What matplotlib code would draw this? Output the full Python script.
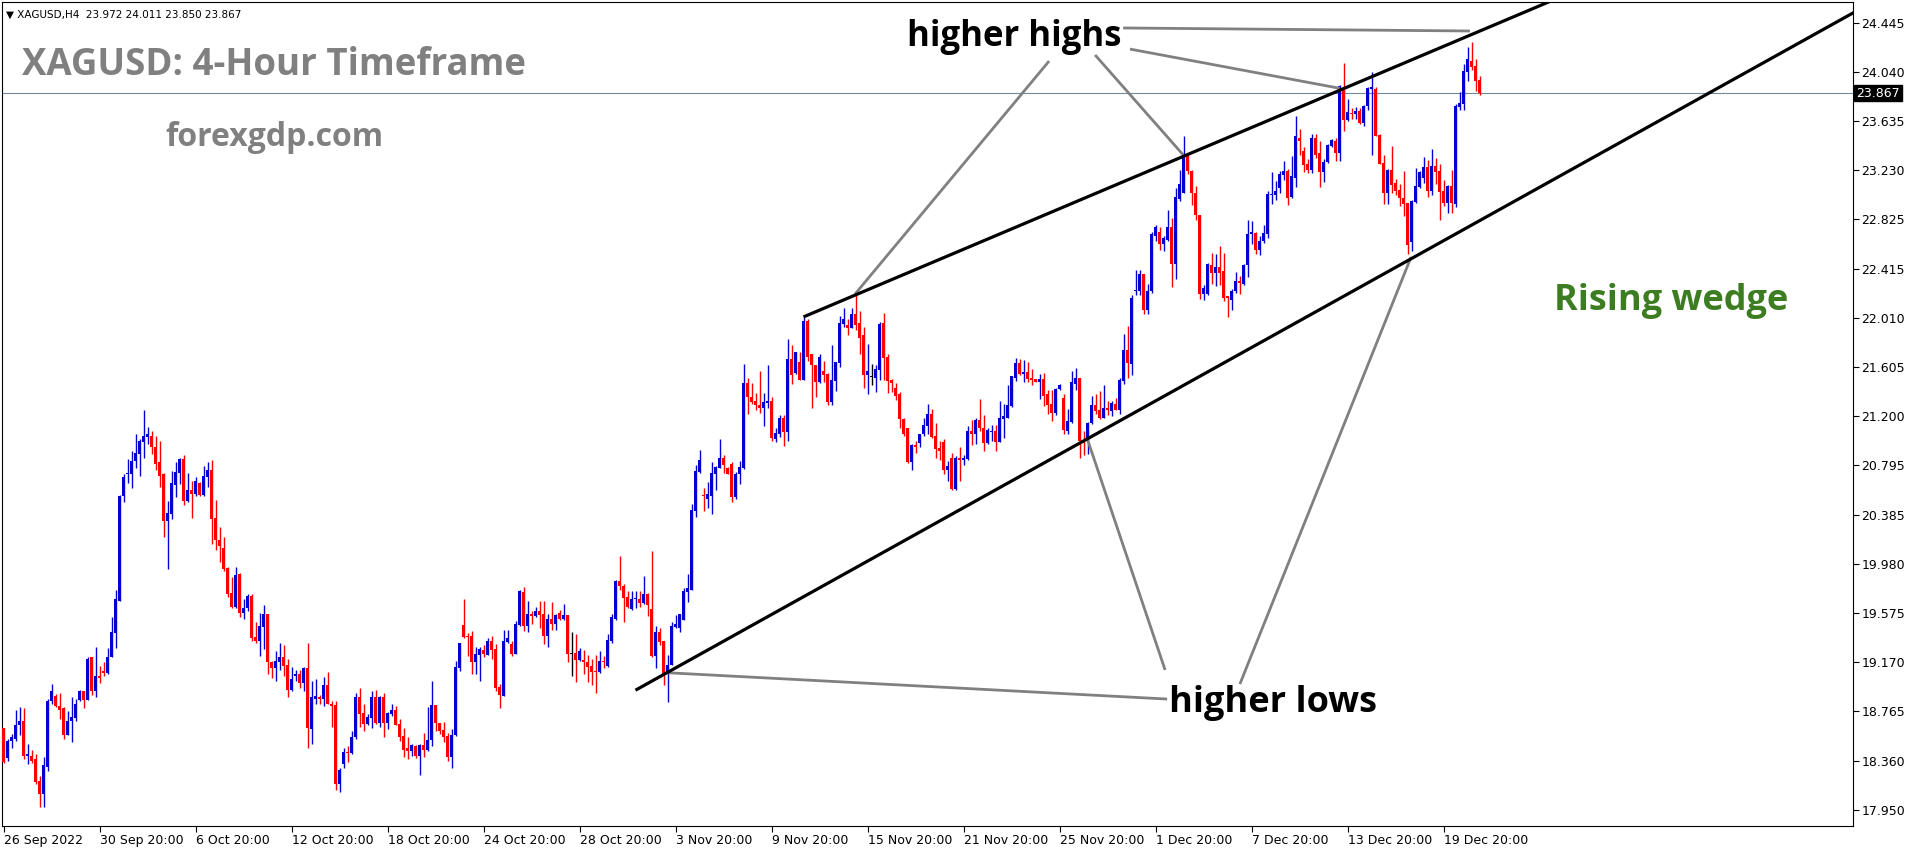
import matplotlib
matplotlib.use("Agg")
import matplotlib.pyplot as plt
import matplotlib.transforms as mtransforms

W, H, DPI = 1916, 850, 100

# ---------------- data (XAGUSD H4, bar 0 = 26 Sep 2022 20:00) ----------------
opens = [
    18.63, 18.38, 18.52, 18.54, 18.65, 18.69, 18.40, 18.40, 18.37, 18.19, 18.08, 18.31, 18.85, 18.89, 18.81, 18.79,
    18.57, 18.69, 18.71, 18.86, 18.93, 18.86, 19.21, 18.93, 19.06, 19.10, 19.08, 19.21, 19.41, 19.68, 20.54, 20.72,
    20.72, 20.83, 20.89, 20.99, 21.03, 21.04, 20.95, 20.82, 20.72, 20.34, 20.39, 20.63, 20.73, 20.85, 20.50,
    20.59, 20.56, 20.65, 20.55, 20.70, 20.76, 20.36, 20.18, 20.11, 19.95, 19.74, 19.63, 19.90, 19.58, 19.62, 19.72,
    19.38, 19.35, 19.46, 19.57, 19.17, 19.12, 19.17, 19.21, 19.15, 18.94, 19.06, 19.07, 19.00, 19.12, 18.62, 18.87,
    18.88, 18.87, 18.98, 18.83, 18.82, 18.17, 18.33, 18.43, 18.42, 18.55, 18.88, 18.75, 18.66, 18.71,
    18.88, 18.67, 18.88, 18.67, 18.74, 18.78, 18.66, 18.56, 18.46, 18.44, 18.48, 18.40, 18.49, 18.45, 18.53, 18.82,
    18.67, 18.61, 18.56, 18.39, 18.57, 19.12, 19.48, 19.39, 19.39, 19.17, 19.23, 19.27, 19.23, 19.35, 19.28, 18.97,
    18.89, 19.34, 19.32, 19.24, 19.48, 19.75, 19.47, 19.57, 19.55, 19.59, 19.57, 19.39, 19.53, 19.49,
    19.58, 19.53, 19.56, 19.24, 19.25, 19.19, 19.19, 19.17, 19.14, 19.10, 19.09, 19.18, 19.14, 19.35, 19.53, 19.84,
    19.80, 19.71, 19.61, 19.69, 19.69, 19.66, 19.73, 19.61, 19.22, 19.42, 19.35, 19.07, 19.15, 19.46, 19.45, 19.52,
    19.75, 19.77, 20.42, 20.74, 20.55, 20.52, 20.54, 20.72, 20.77, 20.86, 20.77, 20.81, 20.53, 20.72, 20.77,
    21.475, 21.36, 21.33, 21.29, 21.27, 21.31, 21.33, 21.01, 21.05, 21.19, 21.07, 21.67, 21.56, 21.65, 21.50, 21.99,
    21.71, 21.62, 21.48, 21.57, 21.55, 21.32, 21.49, 21.64, 21.96, 21.95, 21.93, 22.04, 21.97, 21.87, 21.54, 21.53,
    21.52, 21.58, 21.97, 21.69, 21.50, 21.43, 21.38, 21.18, 21.10, 20.82, 20.96, 20.98, 21.05, 21.12,
    21.22, 21.04, 20.94, 20.99, 20.76, 20.86, 20.60, 20.86, 20.84, 20.85, 21.08, 21.05, 21.17, 21.10, 20.98, 21.07,
    21.08, 20.99, 21.18, 21.19, 21.285, 21.52, 21.64, 21.55, 21.565, 21.52, 21.51, 21.48, 21.51, 21.38, 21.30, 21.23,
    21.425, 21.35, 21.08, 21.15, 21.47, 21.52, 21.00, 21.00, 21.145, 21.29, 21.25, 21.19, 21.27, 21.24,
    21.30, 21.255, 21.49, 21.75, 21.63, 22.235, 22.235, 22.37, 22.08, 22.23, 22.69, 22.72, 22.62, 22.655, 22.76, 22.46,
    22.99, 23.04, 23.356, 23.22, 23.04, 22.86, 22.21, 22.21, 22.45, 22.38, 22.43, 22.40, 22.19, 22.16, 22.23, 22.32,
    22.29, 22.45, 22.70, 22.71, 22.57, 22.65, 22.70, 23.025, 23.025, 23.08, 23.19, 23.22, 23.01, 23.17, 23.50,
    23.39, 23.28, 23.23, 23.50, 23.37, 23.216, 23.30, 23.43, 23.47, 23.37, 23.90, 23.645, 23.70, 23.694, 23.72, 23.62,
    23.76, 23.90, 23.90, 23.52, 23.29, 23.04, 23.23, 23.125, 23.07, 23.00, 22.96, 22.64, 22.97, 23.09, 23.17, 23.257,
    23.06, 23.265, 23.224, 23.06, 22.96, 23.10, 22.95, 23.752, 23.777, 24.043, 24.13, 24.09, 23.972,
]
highs = [
    18.63, 18.54, 18.58, 18.78, 18.80, 18.79, 18.50, 18.45, 18.41, 18.23, 18.39, 18.87, 18.99, 18.91, 18.92, 18.80,
    18.77, 18.88, 18.87, 18.94, 18.93, 19.21, 19.21, 19.30, 19.14, 19.17, 19.29, 19.54, 19.77, 20.55, 20.72, 20.85,
    20.91, 21.05, 21.01, 21.25, 21.11, 21.08, 21.04, 21.00, 20.73, 20.50, 20.75, 20.82, 20.86, 20.88, 20.73,
    20.67, 20.70, 20.66, 20.79, 20.82, 20.84, 20.51, 20.29, 20.20, 19.96, 19.87, 19.96, 19.91, 19.69, 19.73, 19.73,
    19.50, 19.58, 19.64, 19.57, 19.18, 19.26, 19.33, 19.31, 19.20, 19.13, 19.11, 19.11, 19.13, 19.33, 19.02, 19.03,
    18.90, 19.05, 19.09, 18.85, 18.85, 18.30, 18.46, 18.48, 18.60, 18.92, 18.96, 18.83, 18.74, 18.93,
    18.94, 18.89, 18.92, 18.76, 18.83, 18.81, 18.70, 18.63, 18.55, 18.50, 18.49, 18.50, 18.59, 18.80, 19.02, 18.82,
    18.67, 18.68, 18.59, 18.62, 19.18, 19.33, 19.69, 19.41, 19.43, 19.30, 19.30, 19.31, 19.37, 19.39, 19.32, 18.99,
    19.44, 19.44, 19.35, 19.51, 19.77, 19.79, 19.68, 19.59, 19.63, 19.68, 19.68, 19.57, 19.67, 19.57,
    19.60, 19.65, 19.56, 19.42, 19.40, 19.29, 19.27, 19.23, 19.20, 19.23, 19.26, 19.22, 19.40, 19.57, 19.85, 20.05,
    19.82, 19.76, 19.76, 19.76, 19.76, 19.88, 19.74, 20.09, 19.47, 19.45, 19.35, 19.23, 19.50, 19.56, 19.57, 19.78,
    19.90, 20.48, 20.80, 20.92, 20.61, 20.66, 20.82, 20.79, 21.01, 20.88, 20.78, 20.82, 20.74, 20.83, 21.63,
    21.52, 21.475, 21.39, 21.57, 21.39, 21.62, 21.36, 21.10, 21.21, 21.21, 21.84, 21.79, 21.73, 21.73, 22.02, 22.00,
    21.71, 21.62, 21.71, 21.66, 21.56, 21.79, 21.65, 22.03, 22.09, 22.00, 22.09, 22.22, 22.07, 21.94, 21.80, 21.63,
    21.62, 21.98, 22.05, 21.71, 21.51, 21.475, 21.40, 21.19, 21.10, 20.97, 21.00, 21.05, 21.19, 21.30,
    21.26, 21.145, 21.00, 21.01, 20.83, 20.90, 20.87, 20.95, 20.88, 21.12, 21.17, 21.19, 21.34, 21.21, 21.10, 21.13,
    21.13, 21.33, 21.30, 21.46, 21.53, 21.68, 21.67, 21.665, 21.65, 21.59, 21.51, 21.55, 21.557, 21.42, 21.42, 21.43,
    21.47, 21.38, 21.26, 21.57, 21.60, 21.52, 21.08, 21.15, 21.37, 21.38, 21.41, 21.46, 21.33, 21.33,
    21.35, 21.52, 21.88, 21.945, 22.20, 22.41, 22.41, 22.37, 22.29, 22.72, 22.78, 22.76, 22.69, 22.90, 22.836, 23.08,
    23.23, 23.51, 23.37, 23.23, 23.10, 22.86, 22.28, 22.465, 22.55, 22.54, 22.605, 22.55, 22.19, 22.25, 22.39, 22.36,
    22.46, 22.82, 22.81, 22.72, 22.69, 22.78, 23.06, 23.215, 23.14, 23.22, 23.31, 23.24, 23.35, 23.68, 23.57,
    23.42, 23.32, 23.53, 23.53, 23.47, 23.32, 23.45, 23.49, 23.50, 23.93, 24.115, 23.82, 23.74, 23.75, 23.74, 23.77,
    23.92, 24.04, 23.917, 23.53, 23.356, 23.24, 23.43, 23.158, 23.12, 23.224, 22.96, 22.985, 23.25, 23.224, 23.34, 23.315,
    23.405, 23.33, 23.28, 23.15, 23.108, 23.232, 23.777, 23.876, 24.107, 24.247, 24.288, 24.148, 24.011,
]
lows = [
    18.34, 18.36, 18.46, 18.52, 18.57, 18.37, 18.33, 18.34, 18.17, 17.98, 17.98, 18.27, 18.83, 18.80, 18.70, 18.54,
    18.57, 18.51, 18.69, 18.85, 18.79, 18.86, 18.90, 18.88, 19.00, 19.06, 19.07, 19.21, 19.29, 19.68, 20.49, 20.65,
    20.61, 20.77, 20.71, 20.86, 20.97, 20.89, 20.76, 20.62, 20.20, 19.94, 20.35, 20.53, 20.64, 20.47, 20.49,
    20.36, 20.54, 20.54, 20.54, 20.62, 20.15, 20.10, 20.00, 19.92, 19.71, 19.62, 19.62, 19.54, 19.53, 19.59, 19.35,
    19.33, 19.22, 19.28, 19.07, 19.04, 19.02, 19.11, 19.06, 18.88, 18.93, 19.02, 18.96, 18.93, 18.46, 18.50, 18.83,
    18.83, 18.81, 18.83, 18.64, 18.12, 18.10, 18.30, 18.35, 18.41, 18.54, 18.64, 18.60, 18.65, 18.63,
    18.66, 18.64, 18.55, 18.62, 18.73, 18.65, 18.52, 18.39, 18.37, 18.40, 18.38, 18.24, 18.39, 18.44, 18.48, 18.60,
    18.58, 18.51, 18.36, 18.30, 18.56, 19.10, 19.37, 19.22, 19.07, 19.07, 19.02, 19.21, 19.23, 19.20, 18.93, 18.79,
    18.89, 19.33, 19.22, 19.24, 19.47, 19.43, 19.42, 19.49, 19.54, 19.45, 19.32, 19.30, 19.44, 19.44,
    19.52, 19.52, 19.17, 19.06, 19.01, 19.18, 19.07, 19.01, 18.98, 18.92, 19.08, 19.12, 19.13, 19.33, 19.52, 19.77,
    19.50, 19.62, 19.60, 19.62, 19.63, 19.65, 19.55, 19.21, 19.12, 19.31, 18.98, 18.84, 19.15, 19.45, 19.42, 19.52,
    19.67, 19.77, 20.37, 20.73, 20.42, 20.44, 20.39, 20.59, 20.77, 20.73, 20.72, 20.49, 20.52, 20.64, 20.765,
    21.22, 21.30, 21.25, 21.23, 21.12, 21.27, 21.00, 20.99, 21.03, 20.955, 21.00, 21.47, 21.55, 21.50, 21.50, 21.66,
    21.27, 21.36, 21.475, 21.48, 21.29, 21.29, 21.41, 21.61, 21.94, 21.87, 21.93, 21.91, 21.71, 21.43, 21.38, 21.46,
    21.40, 21.50, 21.50, 21.39, 21.40, 21.335, 21.10, 21.04, 20.815, 20.76, 20.90, 20.95, 21.04, 21.05,
    21.02, 20.86, 20.84, 20.72, 20.67, 20.59, 20.59, 20.67, 20.80, 20.84, 20.96, 20.97, 21.08, 20.91, 20.97, 21.00,
    20.91, 20.99, 21.02, 21.19, 21.28, 21.49, 21.54, 21.48, 21.48, 21.46, 21.48, 21.34, 21.285, 21.22, 21.16, 21.21,
    21.42, 21.05, 21.05, 21.145, 21.42, 20.86, 20.88, 20.89, 21.14, 21.22, 21.18, 21.19, 21.21, 21.20,
    21.255, 21.22, 21.47, 21.52, 21.54, 22.20, 22.20, 22.04, 22.04, 22.22, 22.65, 22.57, 22.56, 22.65, 22.27, 22.33,
    22.98, 23.04, 23.20, 22.94, 22.82, 22.17, 22.16, 22.20, 22.29, 22.275, 22.28, 22.15, 22.02, 22.08, 22.22, 22.21,
    22.28, 22.35, 22.62, 22.54, 22.53, 22.63, 22.67, 22.95, 22.985, 23.04, 23.15, 22.94, 22.999, 23.09, 23.356,
    23.216, 23.21, 23.21, 23.33, 23.09, 23.13, 23.29, 23.42, 23.31, 23.31, 23.554, 23.64, 23.65, 23.65, 23.61, 23.595,
    23.73, 23.36, 23.51, 23.28, 22.95, 22.95, 23.04, 23.026, 22.935, 22.85, 22.54, 22.56, 22.96, 23.08, 23.125, 23.01,
    23.026, 23.12, 22.82, 22.935, 22.88, 22.88, 22.927, 23.73, 23.73, 23.966, 24.057, 23.884, 23.850,
]
closes = [
    18.35, 18.52, 18.55, 18.65, 18.69, 18.40, 18.41, 18.36, 18.18, 18.08, 18.32, 18.85, 18.93, 18.81, 18.78, 18.57,
    18.69, 18.72, 18.83, 18.93, 18.86, 19.20, 18.93, 19.06, 19.04, 19.08, 19.21, 19.42, 19.69, 20.54, 20.70, 20.73,
    20.83, 20.90, 21.00, 21.04, 21.05, 20.95, 20.81, 20.71, 20.34, 20.40, 20.65, 20.74, 20.85, 20.50, 20.59,
    20.56, 20.67, 20.55, 20.71, 20.76, 20.35, 20.18, 20.13, 19.94, 19.73, 19.63, 19.89, 19.58, 19.62, 19.72, 19.37,
    19.35, 19.47, 19.57, 19.17, 19.12, 19.18, 19.21, 19.14, 18.94, 19.03, 19.07, 19.00, 19.12, 18.63, 18.88, 18.89,
    18.87, 18.98, 18.83, 18.81, 18.17, 18.28, 18.43, 18.42, 18.55, 18.88, 18.74, 18.66, 18.72, 18.88,
    18.67, 18.88, 18.67, 18.75, 18.78, 18.65, 18.55, 18.45, 18.44, 18.49, 18.40, 18.49, 18.45, 18.53, 18.82, 18.67,
    18.60, 18.55, 18.39, 18.57, 19.13, 19.33, 19.38, 19.38, 19.17, 19.24, 19.28, 19.24, 19.35, 19.27, 18.96, 18.90,
    19.35, 19.37, 19.24, 19.49, 19.76, 19.47, 19.57, 19.55, 19.59, 19.56, 19.39, 19.53, 19.49, 19.56,
    19.53, 19.56, 19.24, 19.24, 19.19, 19.26, 19.17, 19.13, 19.09, 19.09, 19.18, 19.17, 19.355, 19.54, 19.84, 19.80,
    19.70, 19.63, 19.69, 19.70, 19.66, 19.73, 19.64, 19.22, 19.42, 19.34, 19.07, 19.15, 19.47, 19.49, 19.57, 19.76,
    19.78, 20.43, 20.75, 20.84, 20.54, 20.56, 20.73, 20.78, 20.86, 20.80, 20.72, 20.53, 20.72, 20.78, 21.475,
    21.36, 21.32, 21.29, 21.27, 21.32, 21.33, 21.02, 21.06, 21.19, 21.07, 21.67, 21.54, 21.73, 21.50, 21.99, 21.69,
    21.62, 21.48, 21.69, 21.54, 21.32, 21.50, 21.65, 21.97, 22.00, 21.93, 22.04, 21.95, 21.85, 21.54, 21.57, 21.53,
    21.59, 21.96, 21.68, 21.49, 21.475, 21.37, 21.18, 21.05, 20.82, 20.96, 20.95, 21.05, 21.13, 21.22,
    21.03, 20.93, 20.91, 20.76, 20.79, 20.60, 20.86, 20.84, 20.86, 21.08, 21.05, 21.17, 21.10, 20.98, 21.09, 21.08,
    20.99, 21.19, 21.20, 21.29, 21.53, 21.64, 21.55, 21.565, 21.51, 21.50, 21.48, 21.51, 21.37, 21.29, 21.23, 21.425,
    21.46, 21.09, 21.16, 21.48, 21.52, 21.00, 20.98, 21.145, 21.29, 21.24, 21.19, 21.27, 21.25, 21.31,
    21.255, 21.50, 21.75, 21.64, 22.18, 22.24, 22.37, 22.08, 22.23, 22.70, 22.76, 22.62, 22.67, 22.76, 22.46, 23.01,
    23.12, 23.34, 23.22, 23.04, 22.86, 22.21, 22.26, 22.46, 22.38, 22.43, 22.38, 22.18, 22.176, 22.234, 22.32, 22.30,
    22.45, 22.70, 22.72, 22.57, 22.65, 22.71, 23.03, 23.03, 23.06, 23.20, 23.22, 23.00, 23.18, 23.51, 23.47,
    23.27, 23.23, 23.50, 23.36, 23.216, 23.30, 23.44, 23.48, 23.37, 23.925, 23.645, 23.71, 23.694, 23.72, 23.62, 23.76,
    23.91, 23.917, 23.51, 23.28, 23.04, 23.23, 23.11, 23.06, 23.00, 22.95, 22.61, 22.98, 23.10, 23.216, 23.257, 23.06,
    23.265, 23.216, 23.05, 22.96, 23.10, 22.96, 23.76, 23.785, 24.05, 24.148, 24.08, 23.966, 23.867,
]

price_ticks = [24.445, 24.040, 23.635, 23.230, 22.825, 22.415, 22.010, 21.605, 21.200,
               20.795, 20.385, 19.980, 19.575, 19.170, 18.765, 18.360, 17.950]
date_tick_bars = [0, 24, 48, 72, 96, 120, 144, 168, 192, 216, 240, 264, 288, 312, 336, 360]
date_tick_labels = ["26 Sep 2022", "30 Sep 20:00", "6 Oct 20:00", "12 Oct 20:00", "18 Oct 20:00",
                    "24 Oct 20:00", "28 Oct 20:00", "3 Nov 20:00", "9 Nov 20:00", "15 Nov 20:00",
                    "21 Nov 20:00", "25 Nov 20:00", "1 Dec 20:00", "7 Dec 20:00", "13 Dec 20:00",
                    "19 Dec 20:00"]
last_price = 23.867

# trend lines (bar index, price)
upper_line_bars, upper_line_prices = [200, 400], [22.02, 24.81]
lower_line_bars, lower_line_prices = [158, 470], [18.94, 24.668]

# annotation pointer lines (bar index, price) : (start, end)
high_pointers = [((261.4, 24.131), (212.9, 22.209)),
                 ((272.9, 24.181), (294.95, 23.356)),
                 ((281.6, 24.230), (334.1, 23.906)),
                 ((279.9, 24.404), (366.6, 24.379))]
low_pointers = [((290.9, 18.867), (166.1, 19.084)),
                ((290.4, 19.107), (271.05, 21.004)),
                ((309.1, 18.991), (351.9, 22.514))]

# ---------------- figure ----------------
fig = plt.figure(figsize=(W / DPI, H / DPI), dpi=DPI)
fig.patch.set_facecolor("white")

left_px, right_px, top_px, bottom_px = 2, 1853, 2, 826
ax = fig.add_axes([left_px / W, 1 - bottom_px / H, (right_px - left_px) / W, (bottom_px - top_px) / H])
ax.set_facecolor("white")

n = min(len(opens), len(highs), len(lows), len(closes))
xs = list(range(n))
BULL, BEAR, DOJI = "#0000d0", "#ff0000", "#000000"
cols, bottoms, heights = [], [], []
for i in range(n):
    o, c = opens[i], closes[i]
    if c > o:
        cols.append(BULL)
    elif c < o:
        cols.append(BEAR)
    else:
        cols.append(DOJI)
    lo_, hi_ = min(o, c), max(o, c)
    h = max(hi_ - lo_, 0.009)
    bottoms.append(lo_ if hi_ - lo_ >= 0.009 else (lo_ + hi_) / 2 - 0.0045)
    heights.append(h)

ax.vlines(xs, lows[:n], highs[:n], colors=cols, linewidth=1.0, zorder=2)
ax.bar(xs, heights, bottom=bottoms, width=0.72, color=cols, linewidth=0, zorder=3)

# current price line
ax.axhline(last_price, color="#778899", linewidth=0.8, zorder=1)

# wedge lines
ax.plot(upper_line_bars, upper_line_prices, color="black", linewidth=2.3, zorder=5, solid_capstyle="butt")
ax.plot(lower_line_bars, lower_line_prices, color="black", linewidth=2.3, zorder=5, solid_capstyle="butt")

for (s, e) in high_pointers + low_pointers:
    ax.plot([s[0], e[0]], [s[1], e[1]], color="#808080", linewidth=2.0, zorder=4, solid_capstyle="butt")

# scales (4 px per bar)
ax.set_xlim(-0.375, -0.375 + (right_px - left_px) / 4)
ax.set_ylim(24.445 - (826 - 23) / 121.2, 24.445 + (23 - 2) / 121.2)

ax.yaxis.tick_right()
ax.set_yticks(price_ticks)
ax.set_yticklabels([f"{p:.3f}" for p in price_ticks])
ax.set_xticks(date_tick_bars)
ax.set_xticklabels(date_tick_labels, ha="left")
ax.tick_params(axis="both", direction="out", length=4, width=0.8, colors="black",
               labelsize=9, pad=2)
for lab in ax.get_yticklabels() + ax.get_xticklabels():
    lab.set_fontfamily("DejaVu Sans")
for sp in ax.spines.values():
    sp.set_color("black")
    sp.set_linewidth(0.8)

# current price label box on the right axis
trans = mtransforms.blended_transform_factory(ax.transAxes, ax.transData)
ax.text(1.0 + 3 / (right_px - left_px), last_price, f"{last_price:.3f}", transform=trans,
        ha="left", va="center", fontsize=9, color="white", family="DejaVu Sans",
        bbox=dict(boxstyle="square,pad=0.15", fc="black", ec="black"), zorder=10, clip_on=False)

def fx(x):
    return x / W

def fy(y):
    return 1 - y / H

# texts
fig.text(fx(6), fy(18), "\u25bc XAGUSD,H4  23.972 24.011 23.850 23.867", fontsize=7.5,
         family="DejaVu Sans", color="black", ha="left", va="baseline")
fig.text(fx(22), fy(75), "XAGUSD: 4-Hour Timeframe", fontsize=26.4, fontweight="bold",
         family="Open Sans", color="#808080", ha="left", va="baseline")
fig.text(fx(165), fy(146), "forexgdp.com", fontsize=23, fontweight="bold",
         family="Open Sans", color="#808080", ha="left", va="baseline")
fig.text(fx(907), fy(46), "higher highs", fontsize=25, fontweight="bold",
         family="Open Sans", color="black", ha="left", va="baseline")
fig.text(fx(1169), fy(712), "higher lows", fontsize=26, fontweight="bold",
         family="Open Sans", color="black", ha="left", va="baseline")
fig.text(fx(1554), fy(310), "Rising wedge", fontsize=26, fontweight="bold",
         family="Open Sans", color="#3c7d22", ha="left", va="baseline")

fig.savefig("out.png", dpi=DPI, facecolor="white")
